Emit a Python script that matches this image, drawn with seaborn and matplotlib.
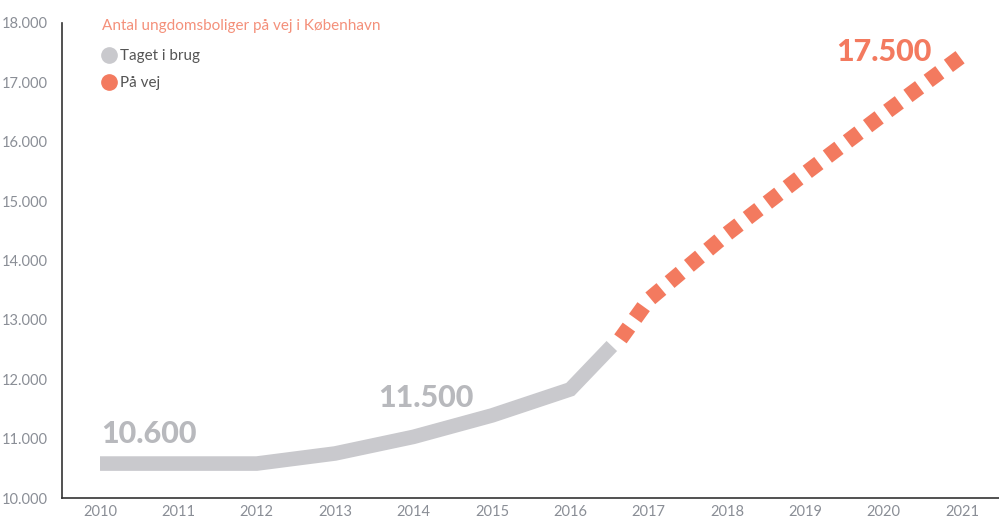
import numpy as np
import pandas as pd
import seaborn as sns
from matplotlib import pyplot as plt
from matplotlib.lines import Line2D

# data
used_years = [2010, 2011, 2012, 2013, 2014, 2015, 2016, 2016.53]
used_values = [10580, 10580, 10580, 10750, 11030, 11390, 11830, 12560]
plan_years = [2016.64, 2017, 2018, 2019, 2020, 2021]
plan_values = [12680, 13340, 14450, 15470, 16470, 17450]
year_ticks = list(range(2010, 2022))
value_ticks = list(range(10000, 18001, 1000))
label_x = [2010.62, 2014.16, 2020.0]
label_y = [11080, 11690, 17510]
label_txt = ['10.600', '11.500', '17.500']

gray = '#c9c9cd'
label_gray = '#b8b9bd'
orange = '#f37a5f'
tick_col = '#8a8e96'

sns.set_style('white')
plt.rcParams['font.family'] = ['Lato', 'DejaVu Sans']

fig = plt.figure(figsize=(9.99, 5.22), dpi=100)
ax = fig.add_axes([62 / 999, 24 / 522, 937 / 999, 475 / 522])

used = pd.DataFrame({'year': used_years, 'value': used_values})
plan = pd.DataFrame({'year': plan_years, 'value': plan_values})

sns.lineplot(data=used, x='year', y='value', ax=ax, color=gray, linewidth=10.5,
             sort=False, estimator=None, solid_capstyle='butt', solid_joinstyle='miter')
sns.lineplot(data=plan, x='year', y='value', ax=ax, color=orange, linewidth=11,
             sort=False, estimator=None, dashes=False)
ln = ax.lines[-1]
ln.set_dashes((0.95, 0.7))
ln.set_dash_capstyle('butt')
ln.set_dash_joinstyle('miter')

# value labels
for x, y, t, c in zip(label_x, label_y, label_txt, [label_gray, label_gray, orange]):
    ax.text(x, y, t, color=c, fontsize=22, fontweight='black', ha='center', va='center')

ax.set_xlim(2009.515, 2021.47)
ax.set_ylim(10000, 18000)
ax.set_xticks(year_ticks)
ax.set_xticklabels([str(y) for y in year_ticks])
ax.set_yticks(value_ticks)
ax.set_yticklabels([f'{v // 1000}.000' for v in value_ticks])
ax.tick_params(axis='both', length=0, colors=tick_col, labelsize=10.5)
ax.tick_params(axis='y', pad=10)
ax.tick_params(axis='x', pad=5)
ax.set_xlabel('')
ax.set_ylabel('')
sns.despine(ax=ax, top=True, right=True)
for s in ['left', 'bottom']:
    ax.spines[s].set_color('#333333')
    ax.spines[s].set_linewidth(1.2)

handles = [Line2D([], [], marker='o', linestyle='', markersize=11, color=gray),
           Line2D([], [], marker='o', linestyle='', markersize=11, color=orange)]
leg = ax.legend(handles, ['Taget i brug', 'På vej'], title='Antal ungdomsboliger på vej i København',
                loc='upper left', bbox_to_anchor=(88 / 999, 1 - 5 / 522), bbox_transform=fig.transFigure,
                frameon=False, alignment='left', handletextpad=0.3, handlelength=0.9,
                labelspacing=0.85, fontsize=11, title_fontsize=11)
leg._legend_box.sep = 12
leg.get_title().set_color('#f4907a')
for t in leg.get_texts():
    t.set_color('#555555')

fig.savefig('out.png', dpi=100)
